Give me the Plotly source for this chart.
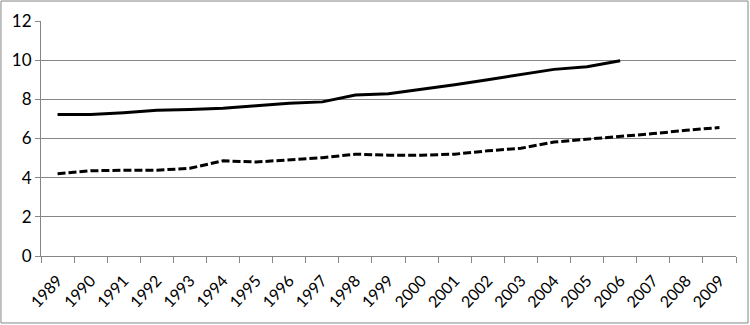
import plotly.graph_objects as go

years = [str(y) for y in range(1989, 2010)]

solid_years = years[:18]
solid_values = [7.22, 7.23, 7.32, 7.44, 7.48, 7.55, 7.67, 7.8, 7.87, 8.22, 8.28, 8.5, 8.75, 9.0, 9.25, 9.53, 9.66, 9.97]

dashed_years = years
dashed_values = [4.2, 4.35, 4.38, 4.38, 4.48, 4.86, 4.8, 4.9, 5.02, 5.2, 5.15, 5.15, 5.2, 5.37, 5.5, 5.82, 5.96, 6.1, 6.25, 6.42, 6.56]

y_ticks = [0, 2, 4, 6, 8, 10, 12]

fig = go.Figure()
fig.add_trace(go.Scatter(
    x=solid_years, y=solid_values, mode='lines',
    line={'color': 'black', 'width': 3},
    showlegend=False,
))
fig.add_trace(go.Scatter(
    x=dashed_years, y=dashed_values, mode='lines',
    line={'color': 'black', 'width': 3, 'dash': '8px,3px'},
    showlegend=False,
))

# plot area: x 41..736 px, y 21..256 px
fig.update_layout(
    width=750, height=325,
    margin={'l': 41, 'r': 14, 't': 21, 'b': 69, 'autoexpand': False},
    paper_bgcolor='white', plot_bgcolor='white',
    font={'family': 'Lato, Open Sans, sans-serif', 'color': 'black'},
    xaxis={
        'type': 'category',
        'categoryorder': 'array', 'categoryarray': years,
        'tickangle': -47,
        'tickfont': {'size': 16},
        'ticklabelstandoff': 8,
        'automargin': False,
        'showgrid': False,
        'showline': True, 'linecolor': '#868686', 'linewidth': 1,
        'ticks': 'outside', 'tickson': 'boundaries', 'ticklen': 6, 'tickcolor': '#868686',
        'range': [-0.5, 20.5],
    },
    yaxis={
        'range': [0, 12],
        'tickvals': y_ticks,
        'tickfont': {'size': 17},
        'automargin': False,
        'showgrid': True, 'gridcolor': '#868686', 'gridwidth': 1,
        'showline': True, 'linecolor': '#868686', 'linewidth': 1,
        'ticks': 'outside', 'ticklen': 5, 'tickcolor': '#868686',
        'zeroline': False,
    },
    shapes=[{
        'type': 'rect', 'xref': 'paper', 'yref': 'paper',
        'x0': -0.0576, 'x1': 1.0173, 'y0': -0.285, 'y1': 1.085,
        'line': {'color': '#868686', 'width': 1},
    }],
)

# drop the default page margin so the figure sits at the window's corner
fig.write_html(
    'out.html',
    config={'displayModeBar': False},
    post_script="document.body.style.margin='0';",
)
